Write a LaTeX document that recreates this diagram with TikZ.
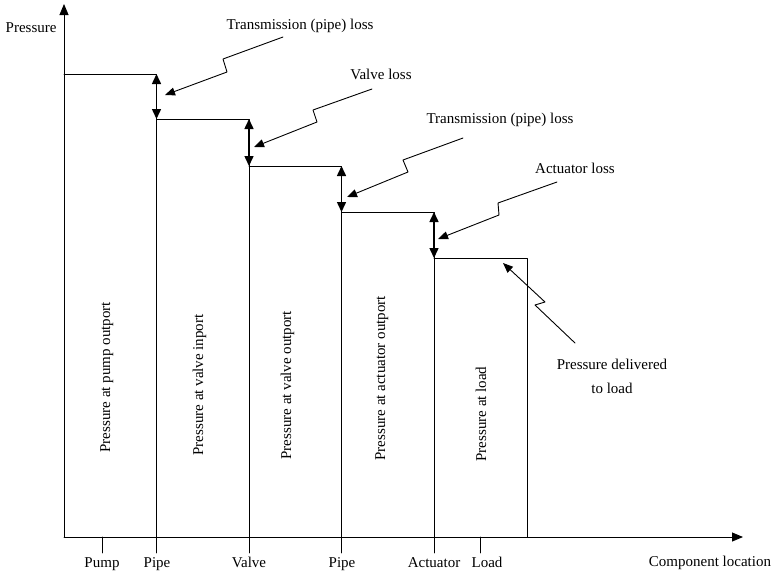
\documentclass[tikz,border=0pt]{standalone}
\usepackage{fontspec}
\setmainfont{Liberation Serif}
\usetikzlibrary{arrows.meta}
\tikzset{
  lbl/.style={font=\fontsize{15}{18}\selectfont,inner sep=0pt},
  lossarrow/.style={{Triangle[length=10pt,width=9pt]}-{Triangle[length=10pt,width=9pt]},line width=1.5pt},
  axisarrow/.style={-{Triangle[length=11pt,width=9pt]}},
}
\begin{document}
\begin{tikzpicture}[line cap=round,line join=round,>={Triangle[length=10pt,width=8pt]},x=1pt,y=-1pt,line width=0.9pt]
\useasboundingbox (0,0) rectangle (775,571);
% axes
\coordinate (O) at (64,537);
\coordinate (ytip) at (64,4);
\coordinate (xtip) at (743,537);
\draw[axisarrow] (O)--(ytip);
\draw[axisarrow] (O)--(xtip);
\node[lbl,anchor=base east] (ylabel) at (57,32) {Pressure};
\node[lbl,anchor=base] (xlabel) at (710,566) {Component location};

% pressure steps, one per component, with the loss between them
\foreach \xa/\xb/\lev/\nxt [count=\i] in {64/156.5/74/119,156.5/249/119/166,249/341.5/166/212,341.5/434/212/258}{
  \coordinate (hi\i) at (\xb,\lev);
  \coordinate (lo\i) at (\xb,\nxt);
  \draw (\xa,\lev)--(hi\i)--(\xb,553);
  \draw[lossarrow] (hi\i)--(lo\i);
}
\draw (434,258)--(527,258)--(527,537);
\draw (102,537)--(102,553);
\draw (480,537)--(480,553);

% component names under the axis
\foreach \px/\name [count=\i] in {102/Pump,157/Pipe,249/Valve,342/Pipe,434/Actuator,487/Load}
  \node[lbl,anchor=base] (comp\i) at (\px,567) {\name};

% pressure inside each step
\foreach \px/\py/\txt [count=\i] in {110/453/pump outport,203/456/valve inport,291/460/valve outport,385/461/actuator outport,486/462/load}
  \node[lbl,rotate=90,anchor=base west] (press\i) at (\px,\py) {Pressure at \txt};

% loss labels with broken leaders
\node[lbl,anchor=base] (loss1) at (300,29.5) {Transmission (pipe) loss};
\node[lbl,anchor=base] (loss2) at (381,79) {Valve loss};
\node[lbl,anchor=base] (loss3) at (500,123) {Transmission (pipe) loss};
\node[lbl,anchor=base] (loss4) at (575,173) {Actuator loss};
\node[lbl,anchor=north,align=center] (deliv) at (612,359) {Pressure delivered\\[6pt]to load};

\foreach \sx/\sy/\ax/\ay/\bx/\by/\tx/\ty [count=\i] in {283/37/223/59/227/72/165/95,372/89/313/110/317/122/254/147,463/138/403/160/408/172/347/197,557/182/498/203/499/215/438/239,575/343/535/305/545/302/503/263}{
  \coordinate (s\i) at (\sx,\sy);
  \coordinate (k\i) at (\ax,\ay);
  \coordinate (j\i) at (\bx,\by);
  \coordinate (t\i) at (\tx,\ty);
  \draw[->] (s\i)--(k\i)--(j\i)--(t\i);
}
\end{tikzpicture}
\end{document}
